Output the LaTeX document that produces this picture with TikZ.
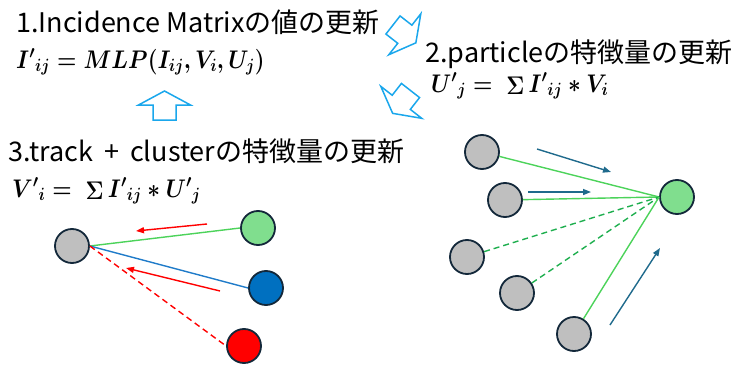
\RequirePackage{fix-cm}
\documentclass[tikz,border=0pt]{standalone}
\usepackage{amsmath}
\usepackage{graphicx}
\usepackage{fontspec}
\newfontfamily\jp{Noto Sans CJK JP}
\usetikzlibrary{arrows.meta}
\definecolor{nodegray}{HTML}{BFBFBF}
\definecolor{nodeedge}{HTML}{13283A}
\definecolor{ngreen}{HTML}{80DE8E}
\definecolor{nblue}{HTML}{0070C0}
\definecolor{nred}{HTML}{FF0000}
\definecolor{lgreen}{HTML}{4CD35A}
\definecolor{dgreen}{HTML}{1FAF4F}
\definecolor{lblue}{HTML}{1F7BC9}
\definecolor{ateal}{HTML}{1F6A8C}
\definecolor{sky}{HTML}{1AA7EC}
\tikzset{
  x=1pt,y=-1pt,
  vtx/.style={circle,draw=nodeedge,line width=1.8pt,minimum size=34pt,inner sep=0pt},
  title/.style={anchor=base west,inner sep=0pt,font=\jp\fontsize{27}{30}\selectfont},
  formula/.style={anchor=base west,inner sep=0pt,font=\boldmath\fontsize{25.5}{28}\selectfont},
  edge/.style={line width=1.4pt},
  dashedge/.style={line width=1.4pt,dash pattern=on 6pt off 4pt},
  flow/.style={line width=1.4pt,-{Triangle[length=8pt,width=6pt]}},
  blockarrow/.style={draw=sky,line width=1.5pt,fill=white,line join=miter}
}
\newcommand{\blockarr}[2]{%
  \begin{scope}[shift={#1},rotate=#2]
    \draw[blockarrow] (0,-11.5) -- (15,-11.5) -- (15,-26) -- (29,0) -- (15,26) -- (15,11.5) -- (0,11.5) -- cycle;
  \end{scope}}
\newcommand{\narrow}[1]{\scalebox{0.87}[1]{#1}}
\newcommand{\sumop}{\mathop{\Sigma}}
\begin{document}
\begin{tikzpicture}
\useasboundingbox (0,0) rectangle (732,367);
% titles
\node[title] (t1) at (16,32) {1.Incidence Matrixの値の更新};
\node[title] (t2) at (425,62) {2.particleの特徴量の更新};
\node[title] (t3) at (8,161) {3.track\hspace{5pt} + \hspace{5pt}clusterの特徴量の更新};
% formulas
\node[formula] (f1) at (16,68) {\narrow{${I'}_{ij} = MLP(I_{ij},V_i,U_j)$}};
\node[formula] (f2) at (431,92) {\narrow{${U'}_j =\ \sumop {I'}_{ij} \ast V_i$}};
\node[formula] (f3) at (12,197) {\narrow{${V'}_i =\ \sumop {I'}_{ij} \ast {U'}_j$}};
% block arrows
\blockarr{(393,25)}{-38}
\blockarr{(410.5,90.5)}{-128}
\blockarr{(164.5,120)}{90}
% left cluster
\node[vtx,fill=nodegray] (a) at (72,246) {};
\node[vtx,fill=ngreen] (ag) at (258,228) {};
\node[vtx,fill=nblue] (ab) at (266,288) {};
\node[vtx,fill=nred] (ar) at (244,346) {};
\draw[edge,lgreen] (a.east) -- (ag.west);
\draw[edge,lblue] (a.east) -- (ab.west);
\draw[dashedge,nred] (a.east) -- (ar.west);
\coordinate (r1s) at (207,224); \coordinate (r1e) at (136,231);
\coordinate (r2s) at (220,291); \coordinate (r2e) at (126,268);
\draw[flow,nred] (r1s) -- (r1e);
\draw[flow,nred] (r2s) -- (r2e);
% right cluster
\node[vtx,fill=ngreen] (b) at (677,197) {};
\node[vtx,fill=nodegray] (b1) at (482,152) {};
\node[vtx,fill=nodegray] (b2) at (505,200) {};
\node[vtx,fill=nodegray] (b3) at (467,257) {};
\node[vtx,fill=nodegray] (b4) at (517,293) {};
\node[vtx,fill=nodegray] (b5) at (574,334) {};
\draw[edge,lgreen] (b1) -- (b.west);
\draw[edge,lgreen] (b2) -- (b.west);
\draw[dashedge,dgreen] (b3) -- (b.west);
\draw[dashedge,dgreen] (b4) -- (b.west);
\draw[edge,lgreen] (b5) -- (b.west);
\coordinate (s1s) at (537,149); \coordinate (s1e) at (611,172);
\coordinate (s2s) at (528,192); \coordinate (s2e) at (591,192);
\coordinate (s3s) at (610,325); \coordinate (s3e) at (660,248);
\draw[flow,ateal] (s1s) -- (s1e);
\draw[flow,ateal] (s2s) -- (s2e);
\draw[flow,ateal] (s3s) -- (s3e);
\end{tikzpicture}
\end{document}
